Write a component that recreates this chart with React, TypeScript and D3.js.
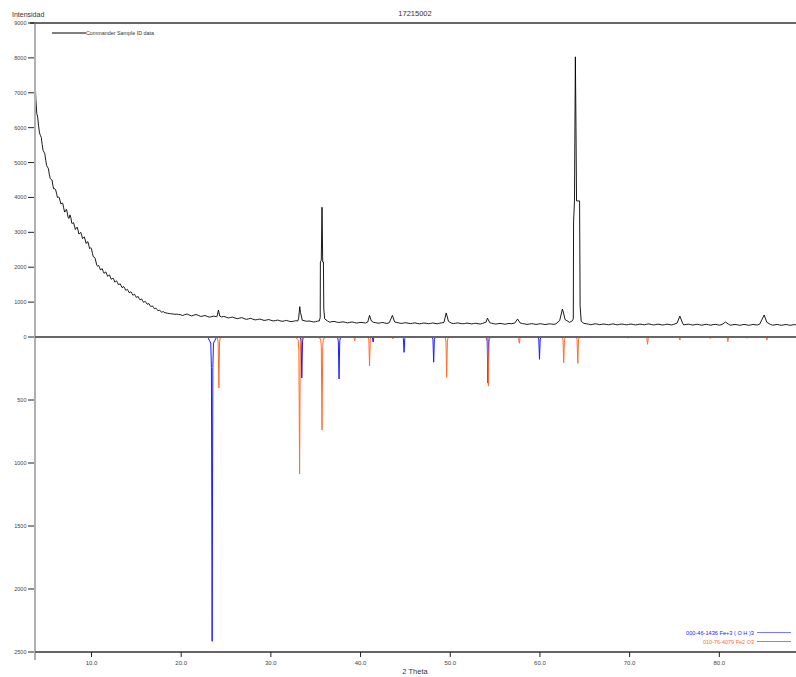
import React from "react";
import * as d3 from "d3";

const W = 796;
const H = 677;

const chartTitle = "17215002";
const yTitle = "Intensidad";
const xTitle = "2 Theta";
const sampleName = "Commander Sample ID data";
const phaseNames = ["000-46-1436 Fe+3 ( O H )3", "010-76-4079 Fe2 O3"];
const phaseColors = ["#1c1cff", "#ff6d2a"];

const xTicks = [10, 20, 30, 40, 50, 60, 70, 80];
const yTicksTop = [0, 1000, 2000, 3000, 4000, 5000, 6000, 7000, 8000, 9000];
const yTicksBottom = [500, 1000, 1500, 2000, 2500];

// measured scan: [2theta, counts]
const sample: [number, number][] = [
  [3.7, 7400], [3.8, 6800], [3.9, 6400], [4.1, 6050], [4.3, 5780], [4.5, 5520], [4.7, 5300],
  [4.9, 5060], [5.1, 4870], [5.3, 4650], [5.5, 4520], [5.7, 4330], [5.9, 4250], [6.1, 4120],
  [6.3, 4010], [6.5, 3900], [6.7, 3840], [6.9, 3700], [7.1, 3610], [7.3, 3560], [7.5, 3400],
  [7.7, 3420], [7.9, 3260], [8.1, 3180], [8.3, 3120], [8.5, 3060], [8.7, 2970], [8.9, 2920],
  [9.1, 2850], [9.3, 2780], [9.5, 2720], [9.7, 2620], [9.9, 2560], [10.1, 2400], [10.3, 2290],
  [10.5, 2150], [10.7, 2030], [10.9, 1990], [11.1, 1950], [11.3, 1880], [11.5, 1850], [11.7, 1800],
  [11.9, 1760], [12.1, 1720], [12.3, 1670], [12.5, 1640], [12.7, 1590], [12.9, 1560], [13.1, 1510],
  [13.3, 1470], [13.5, 1430], [13.7, 1400], [13.9, 1350], [14.1, 1320], [14.3, 1280], [14.5, 1250],
  [14.7, 1210], [14.9, 1180], [15.1, 1150], [15.3, 1110], [15.5, 1080], [15.7, 1040], [15.9, 1010],
  [16.1, 980], [16.3, 950], [16.5, 915], [16.7, 880], [16.9, 850], [17.1, 820], [17.3, 790],
  [17.5, 760], [17.7, 740], [17.9, 720], [18.1, 705], [18.3, 690], [18.5, 680], [18.7, 670],
  [18.9, 665], [19.1, 660], [19.3, 650], [19.5, 655], [19.7, 645], [19.9, 640],
  [20.4, 640], [20.9, 630], [21.4, 625], [21.9, 620], [22.4, 600], [22.9, 590], [23.4, 585],
  [23.9, 580], [24.0, 590], [24.15, 770], [24.3, 600], [24.5, 575], [25.0, 570], [25.5, 560],
  [26.0, 545], [26.5, 540], [27.0, 530], [27.5, 520], [28.0, 510], [28.5, 500], [29.0, 495],
  [29.5, 485], [30.0, 480], [30.5, 470], [31.0, 465], [31.5, 460], [32.0, 455], [32.5, 450],
  [33.0, 460], [33.1, 540], [33.22, 870], [33.3, 700], [33.4, 600], [33.5, 480], [34.0, 450],
  [34.5, 445], [35.0, 440], [35.4, 460], [35.5, 560], [35.52, 2150], [35.62, 2200], [35.7, 3720],
  [35.78, 2150], [35.86, 2150], [35.9, 800], [36.0, 520], [36.3, 460], [36.8, 440], [37.3, 430],
  [37.8, 425], [38.3, 420], [38.8, 420], [39.3, 415], [39.8, 410], [40.3, 410], [40.8, 430],
  [41.0, 620], [41.2, 460], [41.7, 410], [42.2, 405], [42.7, 400], [43.2, 410], [43.55, 620],
  [43.8, 430], [44.3, 400], [44.8, 400], [45.3, 395], [45.8, 395], [46.3, 390], [46.8, 390],
  [47.3, 395], [47.8, 390], [48.3, 390], [48.8, 395], [49.3, 420], [49.55, 690], [49.8, 450],
  [50.1, 400], [50.6, 395], [51.1, 390], [51.6, 385], [52.1, 390], [52.6, 385], [53.1, 380],
  [53.6, 390], [54.0, 430], [54.15, 540], [54.4, 410], [54.8, 385], [55.3, 380], [55.8, 380],
  [56.3, 375], [56.8, 380], [57.2, 400], [57.5, 515], [57.8, 400], [58.3, 375], [58.8, 370],
  [59.3, 375], [59.8, 370], [60.3, 370], [60.8, 365], [61.3, 370], [61.8, 380], [62.2, 470],
  [62.5, 800], [62.6, 720], [62.8, 500], [63.3, 420], [63.6, 460], [63.72, 520], [63.75, 3300],
  [63.85, 3900], [63.95, 8030], [64.02, 6000], [64.08, 3900], [64.42, 3900], [64.48, 900],
  [64.6, 450], [64.9, 390], [65.4, 370], [65.9, 365], [66.4, 370], [66.9, 365], [67.4, 360],
  [67.9, 365], [68.4, 360], [68.9, 365], [69.4, 360], [69.9, 360], [70.4, 360], [70.9, 355],
  [71.4, 360], [71.9, 365], [72.4, 360], [72.9, 355], [73.4, 360], [73.9, 355], [74.4, 360],
  [74.9, 360], [75.3, 400], [75.6, 600], [75.9, 400], [76.3, 360], [76.8, 355], [77.3, 355],
  [77.8, 350], [78.3, 355], [78.8, 350], [79.3, 355], [79.8, 350], [80.3, 360], [80.7, 430],
  [81.0, 370], [81.5, 350], [82.0, 350], [82.5, 345], [83.0, 350], [83.5, 345], [84.0, 350],
  [84.5, 370], [85.0, 630], [85.3, 420], [85.7, 360], [86.2, 350], [86.7, 345], [87.2, 350],
  [87.7, 345], [88.2, 350], [88.6, 345],
];

// additional scan readings between the points above (the visible counting noise)
const sampleNoise: [number, number][] = [
  [4.0, 6300], [4.2, 5850], [4.4, 5720], [4.6, 5350], [4.8, 5250], [5.0, 4910], [5.2, 4820],
  [5.4, 4540], [5.6, 4500], [5.8, 4240], [6.0, 4220], [6.2, 4000], [6.4, 4000], [6.6, 3810],
  [6.8, 3830], [7.0, 3580], [7.2, 3660], [7.4, 3420], [7.6, 3500], [7.8, 3260], [8.0, 3280],
  [8.2, 3080], [8.4, 3150], [8.6, 2950], [8.8, 3000], [9.0, 2820], [9.2, 2870], [9.4, 2680],
  [9.6, 2730], [9.8, 2530], [10.0, 2530], [10.2, 2300], [10.4, 2260], [10.6, 2050], [10.8, 2050],
  [11.0, 1920], [11.2, 1955], [11.4, 1825], [11.6, 1865], [11.8, 1740], [12.0, 1780], [12.2, 1655],
  [12.4, 1690], [12.6, 1575], [12.8, 1610], [13.0, 1500], [13.2, 1525], [13.4, 1415], [13.6, 1445],
  [13.8, 1345], [14.0, 1365], [14.2, 1270], [14.4, 1295], [14.6, 1200], [14.8, 1225], [15.0, 1135],
  [15.2, 1160], [15.4, 1065], [15.6, 1090], [15.8, 995], [16.0, 1020], [16.2, 940], [16.4, 955],
  [16.6, 875], [16.8, 890], [17.0, 810], [17.2, 825], [17.4, 755], [17.6, 770], [17.8, 710],
  [18.0, 730],
  [20.15, 615], [20.65, 660], [21.15, 605], [21.65, 645], [22.15, 590], [22.65, 615], [23.15, 570],
  [23.65, 600], [24.75, 590], [25.25, 545], [25.75, 570], [26.25, 525], [26.75, 555], [27.25, 505],
  [27.75, 535], [28.25, 490], [28.75, 515], [29.25, 475], [29.75, 500], [30.25, 460], [30.75, 485],
  [31.25, 450], [31.75, 475], [32.25, 440], [32.75, 465], [34.25, 460], [34.75, 430], [35.2, 455],
  [36.55, 425], [37.05, 445], [37.55, 415], [38.05, 435], [38.55, 405], [39.05, 430], [39.55, 400],
  [40.05, 420], [40.55, 400], [41.45, 420], [41.95, 395], [42.45, 415], [42.95, 390], [44.05, 415],
  [44.55, 390], [45.05, 410], [45.55, 385], [46.05, 405], [46.55, 378], [47.05, 400], [47.55, 380],
  [48.05, 402], [48.55, 378], [49.05, 405], [50.35, 385], [50.85, 405], [51.35, 378], [51.85, 398],
  [52.35, 375], [52.85, 395], [53.35, 372], [54.6, 395], [55.05, 370], [55.55, 390], [56.05, 368],
  [56.55, 388], [58.05, 385], [58.55, 362], [59.05, 382], [59.55, 360], [60.05, 380], [60.55, 358],
  [61.05, 378], [61.55, 362],
  [65.15, 380], [65.65, 352], [66.15, 378], [66.65, 352], [67.15, 372], [67.65, 350], [68.15, 375],
  [68.65, 348], [69.15, 372], [69.65, 348], [70.15, 372], [70.65, 345], [71.15, 370], [71.65, 348],
  [72.15, 375], [72.65, 345], [73.15, 368], [73.65, 343], [74.15, 368], [74.65, 345], [76.05, 345],
  [76.55, 368], [77.05, 342], [77.55, 365], [78.05, 338], [78.55, 362], [79.05, 338], [79.55, 362],
  [80.05, 340], [81.25, 338], [81.75, 362], [82.25, 335], [82.75, 360], [83.25, 335], [83.75, 360],
  [84.25, 345], [85.95, 338], [86.45, 360], [86.95, 335], [87.45, 358], [87.95, 335], [88.4, 355],
];

// reference pattern 1 (blue): [2theta, intensity]
const phase1Peaks: [number, number][] = [
  [23.45, 2415], [33.45, 325], [37.6, 333], [41.4, 40], [44.85, 122],
  [48.15, 200], [54.2, 365], [59.95, 177],
];
// reference pattern 2 (orange)
const phase2Peaks: [number, number][] = [
  [24.2, 405], [33.2, 1087], [35.7, 738], [39.35, 30], [41.0, 230], [43.6, 15],
  [49.6, 320], [54.25, 390], [57.7, 50], [62.65, 205], [64.22, 209], [69.8, 10],
  [72.0, 58], [75.6, 24], [79.0, 12], [80.95, 37], [83.1, 10], [85.3, 25],
];

const x = d3.scaleLinear().domain([3.7, 88.55]).range([35, 796]);
const yTop = d3.scaleLinear().domain([0, 9000]).range([337, 23]);
const yBot = d3.scaleLinear().domain([0, 2500]).range([337, 652]);

const profOff = [-0.5, -0.15, -0.08, 0, 0.08, 0.15, 0.5];
const profFrac = [0, 0.02, 0.1, 1, 0.1, 0.02, 0];

function peakPath(peaks: [number, number][]) {
  const line = d3
    .line<[number, number]>()
    .x((d) => x(d[0]))
    .y((d) => yBot(d[1]));
  return peaks
    .map(([t, v]) => line(profOff.map((o, i) => [t + o, v * profFrac[i]] as [number, number])))
    .join(" ");
}

const font = "'Liberation Sans', Arial, sans-serif";

export default function App() {
  const scan = [...sample, ...sampleNoise].sort((a, b) => a[0] - b[0]);
  const sampleLine = d3
    .line<[number, number]>()
    .x((d) => x(d[0]))
    .y((d) => yTop(d[1]))(scan) as string;

  return (
    <div style={{ position: "absolute", left: 0, top: 0 }}>
      <svg width={W} height={H} style={{ display: "block", background: "#fff" }} fontFamily={font}>
        <rect x={0} y={0} width={W} height={H} fill="#fff" />
        {/* titles */}
        <text x={415} y={15.5} fontSize={7.5} textAnchor="middle" fill="#333">{chartTitle}</text>
        <text x={12} y={17} fontSize={7} fill="#333">{yTitle}</text>
        <text x={415} y={674} fontSize={7.5} textAnchor="middle" fill="#333">{xTitle}</text>

        {/* reference patterns */}
        <path d={peakPath(phase1Peaks)} fill="none" stroke={phaseColors[0]} strokeWidth={1} />
        <path d={peakPath(phase2Peaks)} fill="none" stroke={phaseColors[1]} strokeWidth={1} />

        {/* sample */}
        <path d={sampleLine} fill="none" stroke="#000" strokeWidth={0.9} />

        {/* axes */}
        <line x1={35} x2={35} y1={23} y2={660} stroke="#b0b0b0" strokeWidth={2} />
        <line x1={30} x2={W} y1={yTop(9000)} y2={yTop(9000)} stroke="#666" strokeWidth={2} />
        <line x1={35} x2={W} y1={yTop(0)} y2={yTop(0)} stroke="#666" strokeWidth={2} />
        <line x1={35} x2={W} y1={yBot(2500)} y2={yBot(2500)} stroke="#666" strokeWidth={2} />

        {yTicksTop.map((t) => (
          <g key={"t" + t}>
            <line x1={28} x2={34} y1={yTop(t)} y2={yTop(t)} stroke="#222" strokeWidth={1} />
            <text x={26.5} y={yTop(t) + 2} fontSize={5.5} textAnchor="end" fill="#444">{t}</text>
          </g>
        ))}
        {yTicksBottom.map((t) => (
          <g key={"b" + t}>
            <line x1={28} x2={34} y1={yBot(t)} y2={yBot(t)} stroke="#222" strokeWidth={1} />
            <text x={26.5} y={yBot(t) + 2} fontSize={5.5} textAnchor="end" fill="#444">{t}</text>
          </g>
        ))}
        {xTicks.map((t) => (
          <g key={"x" + t}>
            <line x1={x(t)} x2={x(t)} y1={652} y2={657} stroke="#222" strokeWidth={1} />
            <text x={x(t)} y={665} fontSize={6} textAnchor="middle" fill="#444">{t.toFixed(1)}</text>
          </g>
        ))}

        {/* top legend */}
        <line x1={52} x2={86} y1={33} y2={33} stroke="#000" strokeWidth={1} />
        <text x={86} y={35} fontSize={6} fill="#333" textLength={68} lengthAdjust="spacingAndGlyphs">{sampleName}</text>

        {/* bottom legend */}
        <text x={754} y={634.5} fontSize={6} textAnchor="end" fill={phaseColors[0]} textLength={68} lengthAdjust="spacingAndGlyphs">{phaseNames[0]}</text>
        <line x1={757} x2={791} y1={632.5} y2={632.5} stroke="#7a7aff" strokeWidth={1} />
        <text x={754} y={644} fontSize={6} textAnchor="end" fill={phaseColors[1]} textLength={51} lengthAdjust="spacingAndGlyphs">{phaseNames[1]}</text>
        <line x1={757} x2={791} y1={641.5} y2={641.5} stroke={phaseColors[1]} strokeWidth={1} />
      </svg>
    </div>
  );
}
